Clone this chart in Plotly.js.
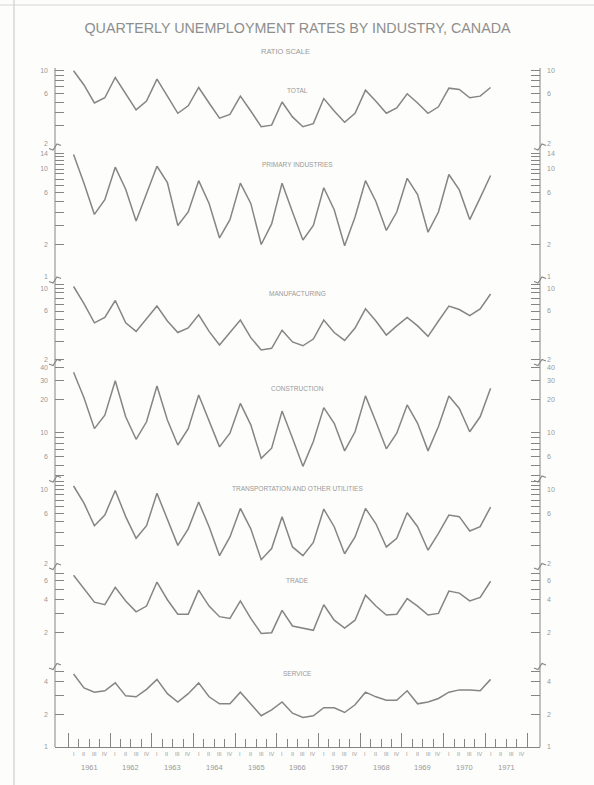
<!DOCTYPE html>
<html>
<head>
<meta charset="utf-8">
<script src="https://cdn.plot.ly/plotly-3.0.1.min.js"></script>
<style>html,body{margin:0;padding:0;background:#fdfdfb;}</style>
</head>
<body>
<div id="chart" style="width:594px;height:785px;"></div>
<script>
// ---------------- DATA ----------------
const years = [1961, 1962, 1963, 1964, 1965, 1966, 1967, 1968, 1969, 1970, 1971];
const quarterLabels = ['I', 'II', 'III', 'IV'];
const pointCount = 41; // 1961 I .. 1971 I

const panelTitles = ['TOTAL', 'PRIMARY INDUSTRIES', 'MANUFACTURING', 'CONSTRUCTION',
  'TRANSPORTATION AND OTHER UTILITIES', 'TRADE', 'SERVICE'];

const total = [10.0, 7.3, 4.9, 5.5, 8.6, 6.0, 4.2, 5.1, 8.3, 5.7, 3.9, 4.6, 6.9, 4.9, 3.5, 3.8,
  5.7, 4.1, 2.9, 3.0, 5.0, 3.6, 2.9, 3.1, 5.4, 4.1, 3.2, 3.9, 6.5, 5.1, 3.9, 4.4,
  6.0, 4.9, 3.9, 4.5, 6.8, 6.6, 5.5, 5.7, 6.9];
const primary = [13.6, 7.4, 3.8, 5.2, 10.4, 6.5, 3.3, 5.8, 10.6, 7.5, 3.0, 4.0, 7.8, 4.8, 2.3, 3.4,
  7.4, 4.8, 2.0, 3.1, 7.4, 4.0, 2.2, 3.0, 6.7, 4.2, 1.95, 3.6, 7.8, 5.0, 2.7, 4.0,
  8.2, 5.8, 2.6, 4.0, 8.9, 6.4, 3.4, 5.4, 8.7];
const manufacturing = [10.4, 7.1, 4.6, 5.2, 7.6, 4.6, 3.8, 5.0, 6.7, 4.8, 3.7, 4.1, 5.5, 3.8, 2.8, 3.7,
  4.9, 3.3, 2.5, 2.6, 3.9, 3.0, 2.75, 3.2, 4.9, 3.7, 3.1, 4.1, 6.3, 4.8, 3.5, 4.3,
  5.2, 4.3, 3.4, 4.8, 6.7, 6.2, 5.4, 6.3, 8.8];
const construction = [36, 21, 10.9, 14.5, 30, 14, 8.7, 12.6, 26.9, 13.1, 7.7, 10.9, 22.2, 13, 7.4, 9.9,
  18.6, 11.8, 5.8, 7.2, 15.8, 8.9, 4.9, 8.3, 17, 12.2, 6.8, 10.2, 21.8, 12.6, 7.1, 9.9,
  18, 12.2, 6.8, 11.4, 21.8, 16.7, 10.2, 14, 25.6];
const transportation = [10.9, 7.5, 4.6, 5.8, 9.9, 5.6, 3.5, 4.6, 9.3, 5.2, 3.0, 4.3, 7.7, 4.5, 2.4, 3.6,
  6.7, 4.3, 2.2, 2.8, 5.6, 2.9, 2.4, 3.2, 6.6, 4.5, 2.5, 3.6, 6.7, 4.8, 2.9, 3.5,
  6.1, 4.5, 2.7, 3.9, 5.8, 5.6, 4.1, 4.5, 6.9];
const trade = [6.7, 5.1, 3.8, 3.6, 5.2, 3.9, 3.1, 3.5, 5.8, 4.0, 2.95, 2.95, 4.9, 3.5, 2.8, 2.7,
  3.9, 2.7, 1.97, 2.0, 3.2, 2.3, 2.2, 2.1, 3.6, 2.6, 2.2, 2.6, 4.4, 3.5, 2.9, 2.95,
  4.1, 3.5, 2.9, 3.0, 4.8, 4.6, 3.9, 4.2, 5.9];
const service = [4.7, 3.5, 3.2, 3.3, 3.9, 2.96, 2.9, 3.4, 4.2, 3.1, 2.6, 3.1, 3.9, 2.9, 2.5, 2.5,
  3.2, 2.5, 1.94, 2.2, 2.6, 2.05, 1.87, 1.94, 2.3, 2.3, 2.08, 2.45, 3.2, 2.9, 2.7, 2.7,
  3.3, 2.5, 2.6, 2.8, 3.2, 3.36, 3.36, 3.3, 4.2];

const tickValues = [
  [2, 3, 4, 5, 6, 7, 8, 9, 10],
  [1, 2, 3, 4, 5, 6, 7, 8, 9, 10, 11, 12, 13, 14],
  [2, 3, 4, 5, 6, 7, 8, 9, 10, 11],
  [4, 5, 6, 7, 8, 9, 10, 20, 30, 40],
  [2, 3, 4, 5, 6, 7, 8, 9, 10, 11, 12],
  [1, 2, 3, 4, 5, 6, 7],
  [1, 2, 3, 4, 5]
];
const labelledTicks = [
  [10, 6, 2],
  [14, 10, 6, 2, 1],
  [10, 6, 2],
  [40, 30, 20, 10, 6],
  [10, 6, 2],
  [6, 4, 2, 1],
  [4, 2, 1]
];

// ---------------- LAYOUT CONSTANTS ----------------
const W = 594, H = 785;
const PLOT = {left: 55, right: 540, top: 68, bottom: 747};
const panelPix = [[68, 144], [150, 278], [282, 361], [364, 478], [480, 565], [568, 665], [668, 747]];
const panelLogRange = [[0.296, 1.026], [-0.009, 1.176], [0.291, 1.061], [0.583, 1.632],
  [0.292, 1.094], [0.0055, 0.892], [0.0, 0.728]];
const panelTitlePix = [90, 164, 293, 388, 488, 580, 673];
const breakPix = [147, 280, 362.5, 479, 566.5, 666.5];
const xRange = [1960.68, 1972.31];

const LINE = '#858585';
const TEXT = '#999999';
const FONT = 'Liberation Sans, Arial, sans-serif';

const px2x = x => (x - PLOT.left) / (PLOT.right - PLOT.left);
const px2y = y => (PLOT.bottom - y) / (PLOT.bottom - PLOT.top);

// x positions: quarter mid-points
const quarterX = [];
for (let i = 0; i < pointCount; i++) quarterX.push(years[0] + (i + 0.5) / 4);

const series = [total, primary, manufacturing, construction, transportation, trade, service];

const traces = [];
series.forEach((vals, k) => {
  traces.push({
    x: quarterX, y: vals, type: 'scatter', mode: 'lines',
    xaxis: 'x', yaxis: k === 0 ? 'y' : 'y' + (k + 1),
    line: {color: LINE, width: 1.5},
    hoverinfo: 'skip', showlegend: false, name: panelTitles[k]
  });
});
// empty traces so the right-hand axes exist
for (let k = 0; k < 7; k++) {
  traces.push({x: [], y: [], type: 'scatter', mode: 'lines', xaxis: 'x', yaxis: 'y' + (k + 8),
    showlegend: false, hoverinfo: 'skip'});
}

const layout = {
  width: W, height: H,
  margin: {l: PLOT.left, r: W - PLOT.right, t: PLOT.top, b: H - PLOT.bottom, pad: 0},
  paper_bgcolor: '#fdfdfb', plot_bgcolor: '#fdfdfb',
  showlegend: false,
  font: {family: FONT, color: TEXT},
  title: {
    text: 'QUARTERLY UNEMPLOYMENT RATES BY INDUSTRY, CANADA',
    font: {family: FONT, size: 14.3, color: '#8e8e8e'},
    x: 0.5, xref: 'paper', xanchor: 'center',
    y: 1 - 28 / H, yref: 'container', yanchor: 'middle'
  },
  annotations: [],
  shapes: []
};

const yearBounds = years.map(y => y).concat([years[years.length - 1] + 1]);
const quarterBounds = [];
years.forEach(y => { [0.25, 0.5, 0.75].forEach(f => quarterBounds.push(y + f)); });

const xCommon = {
  range: xRange, type: 'linear', showgrid: false, zeroline: false,
  showline: true, linecolor: LINE, linewidth: 1,
  tickmode: 'array', tickvals: yearBounds, ticks: 'inside', ticklen: 14,
  tickcolor: LINE, tickwidth: 1, showticklabels: false,
  minor: {tickmode: 'array', tickvals: quarterBounds, ticks: 'inside', ticklen: 8,
    tickcolor: LINE, tickwidth: 1, showgrid: false}
};
layout.xaxis = Object.assign({}, xCommon, {domain: [0, 1], anchor: 'y7', side: 'bottom'});
layout.xaxis2 = Object.assign({}, xCommon, {domain: [0, 1], anchor: 'y', side: 'top',
  overlaying: 'x', ticklen: 12, minor: Object.assign({}, xCommon.minor, {ticklen: 7})});

for (let k = 0; k < 7; k++) {
  const dom = [px2y(panelPix[k][1]), px2y(panelPix[k][0])];
  const text = tickValues[k].map(v => labelledTicks[k].indexOf(v) >= 0 ? String(v) : '');
  const base = {
    type: 'log', range: panelLogRange[k], domain: dom, anchor: 'x',
    showgrid: false, zeroline: false, showline: false,
    tickmode: 'array', tickvals: tickValues[k], ticktext: text,
    ticks: 'inside', ticklen: 9, tickcolor: LINE, tickwidth: 1,
    ticklabelstandoff: 6,
    tickfont: {family: FONT, size: 7, color: TEXT}
  };
  const leftName = k === 0 ? 'yaxis' : 'yaxis' + (k + 1);
  layout[leftName] = Object.assign({}, base, {side: 'left'});
  layout['yaxis' + (k + 8)] = Object.assign({}, base, {side: 'right',
    overlaying: k === 0 ? 'y' : 'y' + (k + 1)});

  layout.annotations.push({
    text: panelTitles[k], xref: 'paper', yref: 'paper', x: px2x(297), y: px2y(panelTitlePix[k]),
    xanchor: 'center', yanchor: 'middle', showarrow: false,
    font: {family: FONT, size: 6.5, color: TEXT}
  });
}

layout.annotations.push({
  text: 'RATIO SCALE', xref: 'paper', yref: 'paper', x: px2x(285), y: px2y(51),
  xanchor: 'center', yanchor: 'middle', showarrow: false,
  font: {family: FONT, size: 7.5, color: TEXT}
});

// quarter and year labels along the time axis
years.forEach(y => {
  quarterLabels.forEach((q, i) => {
    layout.annotations.push({
      text: q, xref: 'x', yref: 'paper', x: y + (i + 0.5) / 4, y: px2y(754),
      xanchor: 'center', yanchor: 'middle', showarrow: false,
      font: {family: FONT, size: 5.5, color: TEXT}
    });
  });
  layout.annotations.push({
    text: String(y), xref: 'x', yref: 'paper', x: y + 0.5, y: px2y(768),
    xanchor: 'center', yanchor: 'middle', showarrow: false,
    font: {family: FONT, size: 7.5, color: TEXT}
  });
});

// frame verticals
[0, 1].forEach(xp => {
  layout.shapes.push({type: 'line', xref: 'paper', yref: 'paper', x0: xp, x1: xp, y0: 0, y1: 1,
    line: {color: LINE, width: 1}});
});
// break marks on both verticals
const bx = (x, dx) => ((x + dx) - PLOT.left) / (PLOT.right - PLOT.left);
breakPix.forEach(py => {
  [PLOT.left, PLOT.right].forEach(axX => {
    const pts = [[-6, 1.5], [-2, 3], [2, -3], [6, -1.5]];
    const d = pts.map((p, i) => (i ? 'L' : 'M') + bx(axX, p[0]).toFixed(5) + ',' + px2y(py + p[1]).toFixed(5)).join(' ');
    layout.shapes.push({type: 'path', xref: 'paper', yref: 'paper', path: d,
      line: {color: LINE, width: 1.1}});
  });
});
// faint edges of the scanned page
layout.shapes.push({type: 'line', xref: 'paper', yref: 'paper', x0: px2x(14), x1: px2x(14),
  y0: px2y(785), y1: px2y(0), line: {color: '#cfcfcf', width: 1.2}});
layout.shapes.push({type: 'line', xref: 'paper', yref: 'paper', x0: px2x(0), x1: px2x(594),
  y0: px2y(5), y1: px2y(5), line: {color: '#d6d6d6', width: 1.2}});

Plotly.newPlot('chart', traces, layout, {displayModeBar: false, staticPlot: true});
</script>
</body>
</html>
